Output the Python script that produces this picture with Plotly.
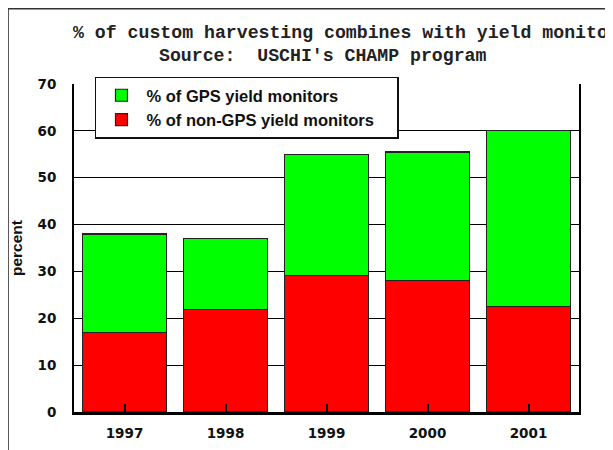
import plotly.graph_objects as go

years = ["1997", "1998", "1999", "2000", "2001"]
non_gps_pct = [16.9, 21.8, 29.2, 28.0, 22.6]
gps_pct = [21.1, 15.3, 25.8, 27.5, 37.4]
y_ticks = [0, 10, 20, 30, 40, 50, 60, 70]

title_line1 = "% of custom harvesting combines with yield monitors"
title_line2 = "Source:  USCHI's CHAMP program"
name_gps = "% of GPS yield monitors"
name_non_gps = "% of non-GPS yield monitors"

# the html page body has an 8px margin; figure sized so it reaches the window edge
OFF = 8
W, H = 621, 450 - OFF
L, T = 74 - OFF, 83.5 - OFF
R = W - (579.5 - OFF)
B = H - (412.5 - OFF)
pw, ph = W - L - R, H - T - B

def px(x):  # page pixel -> paper coord
    return (x - OFF - L) / pw

def py(y):
    return (H - B - (y - OFF)) / ph

fig = go.Figure()
fig.add_trace(go.Bar(
    x=years, y=non_gps_pct, name=name_non_gps + "\u00a0\u00a0\u00a0\u00a0",
    marker=dict(color="#ff0000", line=dict(color="#222222", width=1.2)),
))
fig.add_trace(go.Bar(
    x=years, y=gps_pct, name=name_gps,
    marker=dict(color="#00ff00", line=dict(color="#222222", width=1.2)),
))

tick_font = dict(family="DejaVu Sans, Verdana, sans-serif", size=13.5,
                 color="#111111", weight="bold")

fig.update_layout(
    width=W, height=H,
    margin=dict(l=L, r=R, t=T, b=B, pad=0, autoexpand=False),
    paper_bgcolor="white", plot_bgcolor="white",
    barmode="stack", bargap=0.165,
    showlegend=True,
    legend=dict(
        x=px(95), y=py(76), xanchor="left", yanchor="top",
        traceorder="reversed",
        bgcolor="white", bordercolor="#111111", borderwidth=1.5,
        font=dict(family="Liberation Sans, Arial, sans-serif", size=16.5,
                  color="#111111", weight="bold"),
        itemwidth=40,
    ),
    xaxis=dict(
        type="category", range=[-0.5, 4.5], automargin=False,
        showline=True, linecolor="#000000", linewidth=3,
        ticks="inside", ticklen=8, tickwidth=1.5, tickcolor="#000000",
        showgrid=False, zeroline=False,
        tickfont=tick_font,
        ticklabelstandoff=7,
    ),
    yaxis=dict(
        range=[0, 70], tickvals=y_ticks, automargin=False,
        showline=True, linecolor="#000000", linewidth=2, mirror=True,
        ticks="", showgrid=True, gridcolor="#000000", gridwidth=1.4,
        zeroline=False,
        tickfont=tick_font,
        ticklabelstandoff=13,
        title=dict(text="percent", standoff=13,
                   font=dict(family="Liberation Sans, Arial, sans-serif", size=15.5,
                             color="#111111", weight="bold")),
    ),
    font=dict(family="DejaVu Sans, sans-serif", color="#111111"),
)

fig.add_annotation(
    text=title_line1, xref="paper", yref="paper",
    x=px(71), y=py(32), xanchor="left", yanchor="middle", showarrow=False,
    font=dict(family="Liberation Mono, Courier New, monospace", size=18.2,
              color="#222222", weight="bold"),
)
fig.add_annotation(
    text=title_line2, xref="paper", yref="paper",
    x=px(157), y=py(55), xanchor="left", yanchor="middle", showarrow=False,
    font=dict(family="Liberation Mono, Courier New, monospace", size=18.2,
              color="#222222", weight="bold"),
)

# outer frame of the chart (extends past the window on the right and bottom)
fig.add_shape(
    type="rect", xref="paper", yref="paper",
    x0=px(8), y0=py(470), x1=px(640), y1=py(8),
    line=dict(color="#333333", width=1.5), fillcolor="rgba(0,0,0,0)", layer="below",
)

fig.write_html("out.html")
